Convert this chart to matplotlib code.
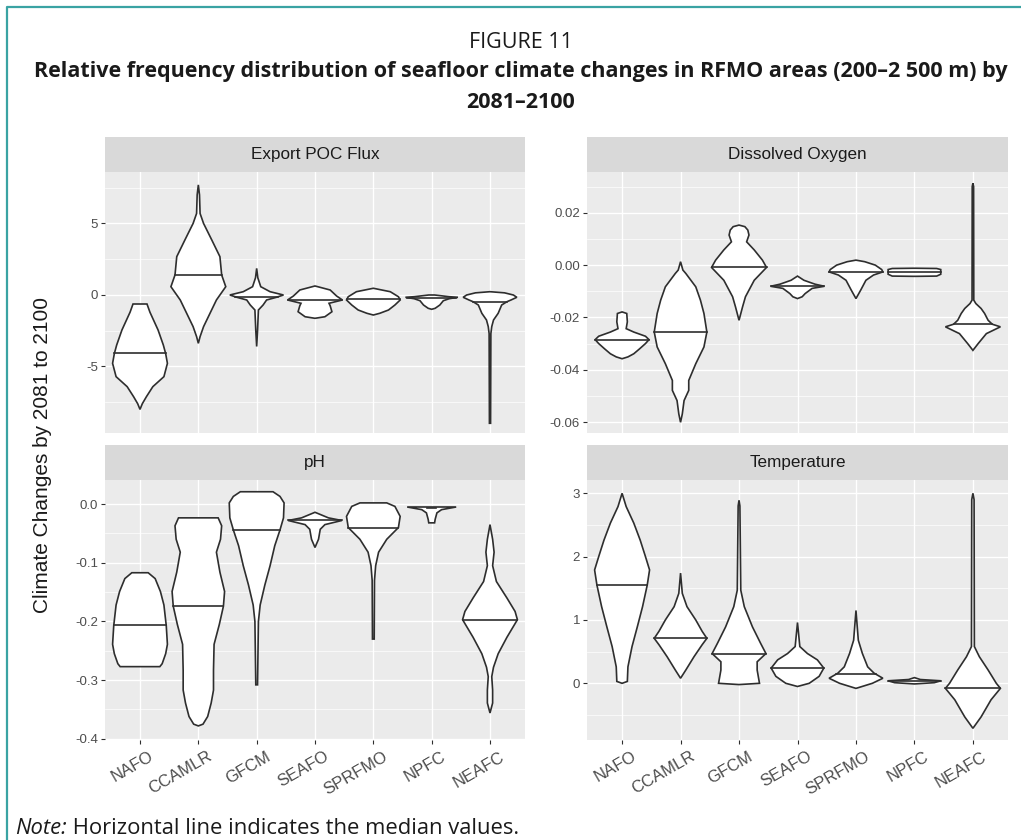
import numpy as np
import matplotlib
matplotlib.use("Agg")
import matplotlib.pyplot as plt
from matplotlib.lines import Line2D
from matplotlib.transforms import ScaledTranslation

plt.rcParams["axes.unicode_minus"] = False

W, H = 1021, 840
TEAL = "#3aa3a3"
INK = "#1a1a1a"
TICK_TXT = "#4d4d4d"
OUTLINE = "#2e2e2e"

REGIONS = ["NAFO", "CCAMLR", "GFCM", "SEAFO", "SPRFMO", "NPFC", "NEAFC"]
PANELS = ["Export POC Flux", "Dissolved Oxygen", "pH", "Temperature"]

# medians per region (same order as REGIONS)
POC_MEDIAN = [-4.08, 1.40, -0.12, -0.35, -0.30, -0.18, -0.47]
DO_MEDIAN = [-0.0285, -0.0256, -0.0009, -0.0081, -0.0026, -0.0027, -0.0226]
PH_MEDIAN = [-0.206, -0.174, -0.044, -0.028, -0.040, -0.007, -0.197]
TEMP_MEDIAN = [1.55, 0.71, 0.47, 0.24, 0.14, 0.04, -0.08]

# violin outlines: (value, half-width in category units), top to bottom
POC_SHAPES = [
    [(-0.63, 0), (-0.63, 0.12), (-1.2, 0.17), (-2.45, 0.31), (-3.5, 0.40), (-4.1, 0.44),
     (-4.78, 0.47), (-5.71, 0.41), (-6.41, 0.22), (-7.11, 0.11), (-7.6, 0.04), (-8.0, 0)],
    [(7.7, 0), (7.0, 0.02), (5.7, 0.03), (5.0, 0.09), (3.85, 0.23), (2.68, 0.37), (1.40, 0.40),
     (0.58, 0.47), (-0.35, 0.31), (-1.28, 0.20), (-2.21, 0.09), (-2.91, 0.03), (-3.38, 0)],
    [(1.86, 0), (1.2, 0.02), (0.58, 0.07), (0.23, 0.23), (0.0, 0.46), (-0.16, 0.34),
     (-0.35, 0.17), (-0.70, 0.11), (-1.05, 0.03), (-2.5, 0.015), (-3.6, 0)],
    [(0.63, 0), (0.35, 0.26), (-0.07, 0.37), (-0.35, 0.47), (-0.58, 0.24), (-0.75, 0.26),
     (-1.17, 0.29), (-1.52, 0.17), (-1.63, 0)],
    [(0.47, 0), (0.23, 0.29), (-0.12, 0.43), (-0.35, 0.46), (-0.70, 0.37), (-1.05, 0.26),
     (-1.28, 0.11), (-1.40, 0)],
    [(0.0, 0), (0.0, 0.05), (-0.12, 0.30), (-0.16, 0.45), (-0.26, 0.30), (-0.40, 0.20),
     (-0.70, 0.14), (-0.93, 0.06), (-1.0, 0)],
    [(0.23, 0), (0.15, 0.25), (0.0, 0.40), (-0.16, 0.46), (-0.35, 0.36), (-0.47, 0.29),
     (-0.70, 0.20), (-1.28, 0.14), (-1.75, 0.06), (-2.21, 0.03), (-2.7, 0.015), (-8.97, 0.01),
     (-8.97, 0)],
]
DO_SHAPES = [
    [(-0.0179, 0), (-0.0185, 0.08), (-0.0217, 0.09), (-0.0243, 0.07), (-0.0256, 0.20),
     (-0.0272, 0.40), (-0.0285, 0.46), (-0.0300, 0.40), (-0.0320, 0.30), (-0.0339, 0.20),
     (-0.0351, 0.10), (-0.0358, 0)],
    [(0.0013, 0), (-0.0019, 0.04), (-0.0032, 0.09), (-0.0083, 0.26), (-0.0134, 0.34),
     (-0.0185, 0.40), (-0.0256, 0.45), (-0.0313, 0.40), (-0.0377, 0.26), (-0.0441, 0.14),
     (-0.0479, 0.14), (-0.0518, 0.06), (-0.0569, 0.03), (-0.0601, 0)],
    [(0.0153, 0), (0.0147, 0.10), (0.0134, 0.15), (0.0115, 0.17), (0.0089, 0.13),
     (0.0058, 0.26), (0.0019, 0.40), (-0.0009, 0.47), (-0.0058, 0.26), (-0.0121, 0.11),
     (-0.0160, 0.06), (-0.0211, 0)],
    [(-0.0042, 0), (-0.0058, 0.11), (-0.0073, 0.30), (-0.0081, 0.46), (-0.0089, 0.25),
     (-0.0109, 0.13), (-0.0121, 0.08), (-0.0128, 0)],
    [(0.0019, 0), (0.0013, 0.15), (0.0, 0.33), (-0.0017, 0.44), (-0.0026, 0.46),
     (-0.0038, 0.30), (-0.0058, 0.17), (-0.0096, 0.08), (-0.0128, 0)],
    [(-0.0012, 0), (-0.0013, 0.38), (-0.0017, 0.45), (-0.0035, 0.45), (-0.0042, 0.38),
     (-0.0043, 0)],
    [(0.0313, 0), (0.0300, 0.012), (-0.0134, 0.015), (-0.0147, 0.05), (-0.0166, 0.14),
     (-0.0185, 0.20), (-0.0211, 0.26), (-0.0226, 0.33), (-0.0236, 0.47), (-0.0262, 0.23),
     (-0.0300, 0.09), (-0.0326, 0)],
]
PH_SHAPES = [
    [(-0.117, 0), (-0.117, 0.14), (-0.127, 0.26), (-0.149, 0.35), (-0.172, 0.41),
     (-0.207, 0.45), (-0.239, 0.47), (-0.255, 0.44), (-0.272, 0.38), (-0.277, 0.34), (-0.277, 0)],
    [(-0.0235, 0), (-0.0235, 0.34), (-0.037, 0.40), (-0.060, 0.38), (-0.082, 0.31),
     (-0.116, 0.37), (-0.149, 0.45), (-0.174, 0.43), (-0.205, 0.36), (-0.239, 0.27),
     (-0.283, 0.26), (-0.317, 0.26), (-0.339, 0.22), (-0.362, 0.16), (-0.375, 0.08), (-0.378, 0)],
    [(0.021, 0), (0.021, 0.28), (0.013, 0.40), (0.002, 0.47), (-0.0235, 0.46), (-0.044, 0.40),
     (-0.071, 0.31), (-0.105, 0.23), (-0.138, 0.14), (-0.172, 0.06), (-0.2, 0.03),
     (-0.308, 0.015), (-0.308, 0)],
    [(-0.014, 0), (-0.0235, 0.23), (-0.028, 0.46), (-0.035, 0.17), (-0.043, 0.09),
     (-0.060, 0.06), (-0.074, 0)],
    [(0.002, 0), (0.002, 0.23), (-0.004, 0.37), (-0.021, 0.46), (-0.040, 0.43), (-0.060, 0.23),
     (-0.082, 0.09), (-0.105, 0.04), (-0.13, 0.02), (-0.230, 0.015), (-0.230, 0)],
    [(-0.005, 0), (-0.005, 0.42), (-0.0095, 0.17), (-0.015, 0.09), (-0.026, 0.06),
     (-0.032, 0.05), (-0.032, 0)],
    [(-0.035, 0), (-0.060, 0.045), (-0.082, 0.07), (-0.105, 0.045), (-0.132, 0.11),
     (-0.160, 0.29), (-0.183, 0.43), (-0.197, 0.47), (-0.227, 0.29), (-0.255, 0.14),
     (-0.278, 0.06), (-0.294, 0.03), (-0.317, 0.045), (-0.339, 0.045), (-0.356, 0)],
]
TEMP_SHAPES = [
    [(3.0, 0), (2.79, 0.07), (2.53, 0.20), (2.26, 0.31), (2.0, 0.40), (1.79, 0.47), (1.55, 0.43),
     (1.21, 0.35), (0.89, 0.26), (0.58, 0.17), (0.26, 0.10), (0.03, 0.09), (0.0, 0)],
    [(1.74, 0), (1.42, 0.03), (1.21, 0.11), (1.0, 0.26), (0.82, 0.37), (0.71, 0.45),
     (0.61, 0.37), (0.42, 0.23), (0.21, 0.09), (0.08, 0)],
    [(2.89, 0), (2.8, 0.015), (1.47, 0.03), (1.21, 0.09), (0.89, 0.23), (0.63, 0.37),
     (0.47, 0.46), (0.34, 0.31), (0.21, 0.31), (0.0, 0.35), (-0.02, 0)],
    [(0.96, 0), (0.58, 0.04), (0.47, 0.17), (0.37, 0.34), (0.24, 0.45), (0.11, 0.37),
     (0.0, 0.20), (-0.05, 0)],
    [(1.15, 0), (0.68, 0.04), (0.47, 0.11), (0.26, 0.20), (0.16, 0.31), (0.08, 0.46),
     (0.0, 0.28), (-0.08, 0)],
    [(0.09, 0), (0.06, 0.10), (0.04, 0.45), (0.01, 0.34), (-0.01, 0)],
    [(3.0, 0), (2.9, 0.02), (0.58, 0.025), (0.42, 0.11), (0.21, 0.26), (0.0, 0.40),
     (-0.08, 0.47), (-0.26, 0.31), (-0.53, 0.14), (-0.71, 0)],
]

Y_TICKS = [[-5, 0, 5], [-0.06, -0.04, -0.02, 0.0, 0.02],
           [-0.4, -0.3, -0.2, -0.1, 0.0], [0, 1, 2, 3]]
Y_TICKLABELS = [["-5", "0", "5"], ["-0.06", "-0.04", "-0.02", "0.00", "0.02"],
                ["-0.4", "-0.3", "-0.2", "-0.1", "0.0"], ["0", "1", "2", "3"]]
Y_MINOR = [[-7.5, -2.5, 2.5, 7.5], [-0.05, -0.03, -0.01, 0.01, 0.03],
           [-0.35, -0.25, -0.15, -0.05], [-0.5, 0.5, 1.5, 2.5]]
Y_LIMS = [(-9.65, 8.6), (-0.0642, 0.0356), (-0.402, 0.041), (-0.895, 3.21)]

SHAPES = [POC_SHAPES, DO_SHAPES, PH_SHAPES, TEMP_SHAPES]
MEDIANS = [POC_MEDIAN, DO_MEDIAN, PH_MEDIAN, TEMP_MEDIAN]

# panel boxes in pixels (x0, y0, x1, y1), y from top
BOXES = [(105, 172, 525, 433), (587, 172, 1008, 433),
         (105, 480, 525, 740), (587, 480, 1008, 740)]
STRIP_H = 35


def fig_rect(x0, y0, x1, y1):
    return [x0 / W, 1 - y1 / H, (x1 - x0) / W, (y1 - y0) / H]


def draw_violin(ax, xc, shape, med):
    prof = np.array(shape, dtype=float)
    y, w = prof[:, 0], prof[:, 1]
    xs = np.concatenate([xc + w, (xc - w)[::-1]])
    ys = np.concatenate([y, y[::-1]])
    ax.fill(xs, ys, facecolor="white", edgecolor=OUTLINE, lw=1.2, zorder=3)
    order = np.argsort(y, kind="stable")
    wm = np.interp(med, y[order], w[order])
    ax.plot([xc - wm, xc + wm], [med, med], color=OUTLINE, lw=1.2, zorder=4)


fig = plt.figure(figsize=(W / 100, H / 100), dpi=100)
fig.patch.set_facecolor("white")

bg = fig.add_axes([0, 0, 1, 1])
bg.set_xlim(0, 1); bg.set_ylim(0, 1); bg.axis("off")
bg.add_line(Line2D([7 / W, 7 / W, 1], [0, 1 - 7 / H, 1 - 7 / H], color=TEAL, lw=1.6))

CHART_FONT = "Liberation Sans"
xpos = np.arange(len(REGIONS))

for i, name in enumerate(PANELS):
    x0, y0, x1, y1 = BOXES[i]
    ax = fig.add_axes(fig_rect(x0, y0, x1, y1))
    ax.set_facecolor("#ebebeb")
    for sp in ax.spines.values():
        sp.set_visible(False)
    ax.set_xlim(-0.6, len(REGIONS) - 0.4)
    ax.set_ylim(*Y_LIMS[i])
    ax.set_yticks(Y_TICKS[i])
    ax.set_yticklabels(Y_TICKLABELS[i], family=CHART_FONT, fontsize=9.5, color=TICK_TXT)
    ax.set_yticks(Y_MINOR[i], minor=True)
    ax.set_xticks(xpos)
    ax.grid(True, which="major", color="white", lw=1.0)
    ax.grid(True, which="minor", axis="y", color="white", lw=0.5)
    ax.set_axisbelow(True)
    ax.tick_params(axis="both", which="major", length=3, width=0.8, color=OUTLINE, pad=2)
    ax.tick_params(axis="y", which="minor", length=0)
    if i < 2:
        ax.tick_params(axis="x", length=0, labelbottom=False)
    else:
        ax.set_xticklabels(REGIONS, family=CHART_FONT, fontsize=12, color=TICK_TXT,
                           rotation=30, ha="right", va="top", rotation_mode="anchor")
        shift = ScaledTranslation(9 / 100, -2 / 100, fig.dpi_scale_trans)
        for lab in ax.get_xticklabels():
            lab.set_transform(lab.get_transform() + shift)

    for j in range(len(REGIONS)):
        draw_violin(ax, xpos[j], SHAPES[i][j], MEDIANS[i][j])

    st = fig.add_axes(fig_rect(x0, y0 - STRIP_H, x1, y0))
    st.set_facecolor("#d9d9d9")
    st.set_xticks([]); st.set_yticks([])
    for sp in st.spines.values():
        sp.set_visible(False)
    st.text(0.5, 0.5, name, ha="center", va="center", family=CHART_FONT,
            fontsize=12.3, color=INK, transform=st.transAxes)

fig.text(43 / W, 1 - 455 / H, "Climate Changes by 2081 to 2100", rotation=90,
         ha="center", va="center", family=CHART_FONT, fontsize=15, color=INK)

TITLE_FONT = "Open Sans"
cx = 521 / W
fig.text(cx, 1 - 43 / H, "FIGURE 11", ha="center", va="center",
         family=TITLE_FONT, fontsize=15.5, color=INK)
fig.text(cx, 1 - 72 / H,
         "Relative frequency distribution of seafloor climate changes in RFMO areas (200\u20132 500 m) by",
         ha="center", va="center", family=TITLE_FONT, fontsize=15.5, fontweight="bold", color=INK)
fig.text(cx, 1 - 102 / H, "2081\u20132100", ha="center", va="center",
         family=TITLE_FONT, fontsize=15.5, fontweight="bold", color=INK)

note1 = fig.text(15 / W, 1 - 828 / H, "Note:", ha="left", va="center",
                 family=TITLE_FONT, fontsize=15.8, style="italic", color=INK)
bg.annotate(" Horizontal line indicates the median values.", xy=(1, 0), xycoords=note1,
            ha="left", va="bottom", family=TITLE_FONT, fontsize=15.8, color=INK)

fig.savefig("out.png", dpi=100, facecolor="white")
